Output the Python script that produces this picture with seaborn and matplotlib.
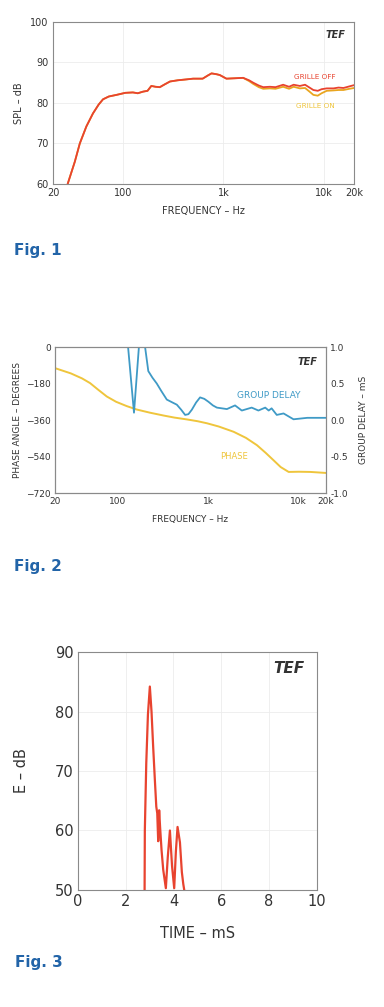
import numpy as np
import pandas as pd
import matplotlib
matplotlib.use("Agg")
import matplotlib.pyplot as plt
import seaborn as sns

# ── Fig. 1 data: SPL vs frequency ────────────────────────────────────────────
spl_freq = [28, 33, 37, 43, 50, 57, 63, 72, 86, 105, 125, 140, 158, 175, 191, 210,
            232, 260, 293, 350, 420, 498, 620, 700, 760, 850, 918, 1070, 1300,
            1570, 1800, 1980, 2250, 2490, 2900, 3300, 3930, 4500, 5000, 5770,
            6500, 7200, 7860, 8700, 9500, 10680, 12500, 14000, 15700, 18000, 20000]
grille_off = [60.0, 65.5, 70.0, 74.2, 77.4, 79.6, 80.9, 81.6, 82.0, 82.5, 82.6,
              82.4, 82.8, 83.0, 84.2, 84.0, 83.9, 84.6, 85.3, 85.6, 85.8, 86.0,
              86.0, 86.8, 87.3, 87.1, 86.9, 86.0, 86.1, 86.2, 85.6, 85.0, 84.3,
              83.9, 84.0, 83.9, 84.5, 84.0, 84.5, 84.2, 84.5, 83.8, 83.2, 83.0,
              83.4, 83.6, 83.6, 83.8, 83.7, 84.1, 84.4]
grille_on = [60.0, 65.5, 70.0, 74.2, 77.4, 79.6, 80.9, 81.6, 82.0, 82.5, 82.6,
             82.4, 82.8, 83.0, 84.2, 84.0, 83.9, 84.6, 85.3, 85.6, 85.8, 86.0,
             86.0, 86.8, 87.3, 87.1, 86.9, 86.0, 86.1, 86.2, 85.4, 84.7, 83.9,
             83.5, 83.6, 83.5, 84.0, 83.5, 84.0, 83.6, 83.7, 82.8, 82.0, 81.8,
             82.4, 83.0, 83.1, 83.2, 83.2, 83.5, 83.7]

# ── Fig. 2 data: phase and group delay ───────────────────────────────────────
phase_freq = [20, 30, 40, 49, 60, 75, 95, 124, 160, 226, 320, 420, 577, 760,
              962, 1300, 1900, 2600, 3440, 4300, 5240, 6300, 7720, 10000, 13400,
              20000]
phase_deg = [-104, -130, -155, -178, -210, -244, -270, -291, -308, -324, -338,
             -348, -357, -366, -376, -392, -418, -448, -484, -522, -558, -592,
             -616, -615, -616, -621]

gd_freq = [122, 129, 150, 170, 178, 199, 216, 240, 268, 300, 346, 400, 447, 500,
           552, 600, 654, 730, 808, 900, 1000, 1120, 1240, 1600, 1970, 2340,
           3010, 3570, 4250, 4640, 5000, 5700, 6780, 8740, 12400, 20000]
gd_ms = [1.5, 1.0, 0.1, 1.0, 1.5, 1.0, 0.67, 0.58, 0.5, 0.4, 0.28, 0.24, 0.21,
         0.14, 0.07, 0.08, 0.14, 0.24, 0.31, 0.29, 0.25, 0.20, 0.17, 0.15, 0.20,
         0.13, 0.17, 0.13, 0.17, 0.13, 0.16, 0.07, 0.09, 0.01, 0.03, 0.03]

# ── Fig. 3 data: energy-time curve ───────────────────────────────────────────
etc_time = [2.79, 2.80, 2.86, 2.93, 3.01, 3.08, 3.15, 3.22, 3.28, 3.32, 3.36,
            3.40, 3.44, 3.50, 3.57, 3.68, 3.76, 3.85, 3.94, 4.03, 4.10, 4.17,
            4.27, 4.35, 4.41, 4.45]
etc_db = [50.0, 60.0, 71.3, 79.5, 84.2, 80.0, 74.0, 68.5, 64.0, 62.9, 58.2,
          63.4, 60.5, 56.7, 53.4, 50.3, 55.5, 60.0, 54.0, 50.3, 56.5, 60.6,
          58.0, 53.0, 51.0, 50.0]

freq_ticks = [20, 100, 1000, 10000, 20000]
freq_labels = ["20", "100", "1k", "10k", "20k"]

RED = "#e8432f"
YELLOW = "#efc53c"
ORANGE = "#e9a51f"
BLUE = "#3f9ac6"
FIG_BLUE = "#2264a8"
GRID = "#ececec"
SPINE = "#8a8a8a"
TXT = "#333333"

sns.set_theme(style="white")
plt.rcParams["font.family"] = ["DejaVu Sans"]

fig = plt.figure(figsize=(3.84, 10.07), dpi=100)


def style_axes(ax, fs):
    ax.grid(True, color=GRID, linewidth=0.6)
    ax.set_axisbelow(True)
    for s in ax.spines.values():
        s.set_color(SPINE)
        s.set_linewidth(0.8)
    ax.tick_params(length=0, labelsize=fs, colors=TXT, pad=3)


# ── Fig. 1 ───────────────────────────────────────────────────────────────────
ax1 = fig.add_axes([0.138, 0.8173, 0.784, 0.1609])
df1 = pd.DataFrame({"f": spl_freq * 2, "spl": grille_on + grille_off,
                    "cond": ["on"] * len(spl_freq) + ["off"] * len(spl_freq)})
sns.lineplot(data=df1, x="f", y="spl", hue="cond",
             palette={"on": ORANGE, "off": RED}, linewidth=1.3,
             legend=False, ax=ax1)
ax1.set_xscale("log")
ax1.set_xlim(20, 20000)
ax1.set_ylim(60, 100)
ax1.set_xticks(freq_ticks)
ax1.set_xticklabels(freq_labels)
ax1.minorticks_off()
ax1.set_yticks([60, 70, 80, 90, 100])
style_axes(ax1, 7)
ax1.set_xlabel("FREQUENCY – Hz", fontsize=7, color=TXT, labelpad=6)
ax1.set_ylabel("SPL – dB", fontsize=7, color=TXT, labelpad=5)
ax1.text(0.97, 0.92, "TEF", transform=ax1.transAxes, ha="right", va="center",
         fontsize=7, fontweight="bold", style="italic", color=TXT)
ax1.text(0.87, 0.66, "GRILLE OFF", transform=ax1.transAxes, ha="center",
         va="center", fontsize=5.2, color=RED)
ax1.text(0.87, 0.48, "GRILLE ON", transform=ax1.transAxes, ha="center",
         va="center", fontsize=5.2, color=YELLOW)
fig.text(0.036, 1 - 250 / 1007, "Fig. 1", fontsize=11, fontweight="bold",
         color=FIG_BLUE, va="center")

# ── Fig. 2 ───────────────────────────────────────────────────────────────────
ax2 = fig.add_axes([0.143, 0.5104, 0.706, 0.145])
sns.lineplot(x=phase_freq, y=phase_deg, color=YELLOW, linewidth=1.4, ax=ax2)
ax2.set_xscale("log")
ax2.set_ylim(-720, 0)
ax2.set_yticks([0, -180, -360, -540, -720])
style_axes(ax2, 6.5)
ax2.grid(False)
ax2.set_xlabel("FREQUENCY – Hz", fontsize=6.5, color=TXT, labelpad=6)
ax2.set_ylabel("PHASE ANGLE – DEGREES", fontsize=6.5, color=TXT, labelpad=3)

ax2r = ax2.twinx()
sns.lineplot(x=gd_freq, y=gd_ms, color=BLUE, linewidth=1.3, ax=ax2r)
ax2r.set_ylim(-1.0, 1.0)
ax2r.set_yticks([1.0, 0.5, 0.0, -0.5, -1.0])
ax2r.set_yticklabels(["1.0", "0.5", "0.0", "-0.5", "-1.0"])
style_axes(ax2r, 6.5)
ax2r.grid(False)
ax2r.set_ylabel("GROUP DELAY – mS", fontsize=6.5, color=TXT, labelpad=8)

# x axis is shared, so set the log scale and ticks after the twin is made
ax2.set_xscale("log")
ax2.set_xlim(20, 20000)
ax2.minorticks_off()
ax2.set_xticks(freq_ticks)
ax2.set_xticklabels(freq_labels)
ax2r.minorticks_off()

ax2r.text(0.97, 0.9, "TEF", transform=ax2.transAxes, ha="right",
          va="center", fontsize=7, fontweight="bold", style="italic",
          color=TXT)
ax2r.text(0.79, 0.67, "GROUP DELAY", transform=ax2.transAxes, ha="center",
          va="center", fontsize=6.5, color=BLUE)
ax2r.text(0.66, 0.25, "PHASE", transform=ax2.transAxes, ha="center",
          va="center", fontsize=6, color=YELLOW)
fig.text(0.036, 1 - 567 / 1007, "Fig. 2", fontsize=11, fontweight="bold",
         color=FIG_BLUE, va="center")

# ── Fig. 3 ───────────────────────────────────────────────────────────────────
ax3 = fig.add_axes([0.203, 0.1162, 0.622, 0.2363])
sns.lineplot(x=etc_time, y=etc_db, color=RED, linewidth=1.6, sort=False,
             ax=ax3)
ax3.set_xlim(0, 10)
ax3.set_ylim(50, 90)
ax3.set_xticks([0, 2, 4, 6, 8, 10])
ax3.set_yticks([50, 60, 70, 80, 90])
style_axes(ax3, 10.5)
ax3.set_xlabel("TIME – mS", fontsize=10.5, color=TXT, labelpad=12)
ax3.set_ylabel("E – dB", fontsize=10.5, color=TXT, labelpad=19)
ax3.text(0.95, 0.93, "TEF", transform=ax3.transAxes, ha="right",
         va="center", fontsize=11, fontweight="bold", style="italic",
         color=TXT)
fig.text(0.04, 1 - 963 / 1007, "Fig. 3", fontsize=11, fontweight="bold",
         color=FIG_BLUE, va="center")

fig.savefig("out.png", dpi=100)
